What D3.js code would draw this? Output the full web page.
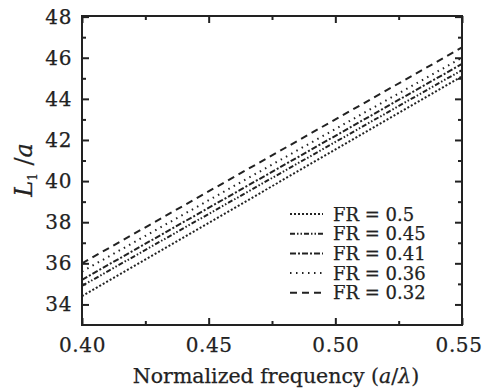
<!DOCTYPE html>
<html>
  <head>
    <script src="https://d3js.org/d3.v7.min.js"></script>
    <style>
      body { margin: 0; background: #fff; }
      text { font-family: "DejaVu Serif", serif; fill: #222; stroke: #222; stroke-width: 0.25px; }
    </style>
  </head>
  <body>
    <svg width="483" height="390"></svg>
    <script>
      // data
      const freq = [0.40, 0.55];
      const fr50 = [34.4, 45.1];
      const fr45 = [34.9, 45.4];
      const fr41 = [35.2, 45.7];
      const fr36 = [35.6, 46.0];
      const fr32 = [36.0, 46.5];
      const seriesNames = ["FR = 0.5", "FR = 0.45", "FR = 0.41", "FR = 0.36", "FR = 0.32"];
      const xTicks = [0.40, 0.45, 0.50, 0.55];
      const yTicks = [34, 36, 38, 40, 42, 44, 46, 48];

      const series = [fr50, fr45, fr41, fr36, fr32];
      const dashes = ["2,2", "5,2,1.5,2,1.5,2", "6,2,2,2", "1.5,4.5", "7,5"];

      const svg = d3.select("svg");
      const m = { left: 82, right: 462, top: 16, bottom: 325 };

      const x = d3.scaleLinear().domain([0.40, 0.55]).range([m.left, m.right]);
      const y = d3.scaleLinear().domain([33, 48.03]).range([m.bottom, m.top]);

      const ink = "#222";

      // lines
      const line = d3.line().x((d, i) => x(freq[i])).y(d => y(d));
      svg.selectAll("path.series")
        .data(series)
        .enter()
        .append("path")
        .attr("class", "series")
        .attr("d", d => line(d))
        .attr("fill", "none")
        .attr("stroke", ink)
        .attr("stroke-width", 2)
        .attr("stroke-dasharray", (d, i) => dashes[i]);

      // axes with inward ticks
      const bottom = d3.axisBottom(x).tickValues(xTicks).tickFormat(d3.format(".2f")).tickSizeInner(-7).tickSizeOuter(0).tickPadding(13);
      const minorX = d3.axisBottom(x).tickValues([0.425, 0.475, 0.525]).tickSizeInner(-4).tickSizeOuter(0).tickFormat("");
      const left = d3.axisLeft(y).tickValues(yTicks).tickSizeInner(-7).tickSizeOuter(0).tickPadding(10);
      const minorY = d3.axisLeft(y).tickValues(d3.range(35, 48, 2)).tickSizeInner(-4).tickSizeOuter(0).tickFormat("");

      function styleAxis(g) {
        g.select(".domain").remove();
        g.selectAll("line").attr("stroke", ink).attr("stroke-width", 2);
        g.selectAll("text").attr("font-size", 20).attr("letter-spacing", 0.6).attr("fill", ink)
          .style("font-family", "DejaVu Serif");
      }

      svg.append("g").attr("transform", `translate(0,${m.bottom})`).call(bottom).call(styleAxis);
      svg.append("g").attr("transform", `translate(0,${m.bottom})`).call(minorX).call(styleAxis);
      svg.append("g").attr("transform", `translate(0,${m.top})`).call(d3.axisTop(x).tickValues(xTicks).tickSizeInner(-7).tickSizeOuter(0).tickFormat("")).call(styleAxis);
      svg.append("g").attr("transform", `translate(0,${m.top})`).call(d3.axisTop(x).tickValues([0.425, 0.475, 0.525]).tickSizeInner(-4).tickSizeOuter(0).tickFormat("")).call(styleAxis);
      svg.append("g").attr("transform", `translate(${m.left},0)`).call(left).call(styleAxis);
      svg.append("g").attr("transform", `translate(${m.left},0)`).call(minorY).call(styleAxis);
      svg.append("g").attr("transform", `translate(${m.right},0)`).call(d3.axisRight(y).tickValues(yTicks).tickSizeInner(-7).tickSizeOuter(0).tickFormat("")).call(styleAxis);
      svg.append("g").attr("transform", `translate(${m.right},0)`).call(d3.axisRight(y).tickValues(d3.range(35, 48, 2)).tickSizeInner(-4).tickSizeOuter(0).tickFormat("")).call(styleAxis);

      // keep the last x label inside the window
      svg.selectAll("text").filter(function () { return this.textContent === "0.55"; })
        .attr("text-anchor", "end").attr("dx", 20);

      // frame
      svg.append("rect")
        .attr("x", m.left).attr("y", m.top)
        .attr("width", m.right - m.left).attr("height", m.bottom - m.top)
        .attr("fill", "none").attr("stroke", ink).attr("stroke-width", 2);

      // axis titles
      svg.append("text")
        .attr("x", (m.left + m.right) / 2 + 4).attr("y", 383)
        .attr("text-anchor", "middle").attr("font-size", 20.5)
        .html('Normalized frequency (<tspan font-style="italic">a</tspan>/<tspan font-style="italic">λ</tspan>)');

      svg.append("text")
        .attr("transform", "translate(32,170) rotate(-90)")
        .attr("text-anchor", "middle").attr("font-size", 24)
        .html('<tspan font-style="italic">L</tspan><tspan font-size="12" dy="5">1</tspan><tspan dy="-5"> /</tspan><tspan font-style="italic">a</tspan>');

      // legend
      const leg = svg.append("g");
      seriesNames.forEach((name, i) => {
        const ly = 214 + i * 19.7;
        leg.append("line")
          .attr("x1", 290).attr("x2", 323).attr("y1", ly).attr("y2", ly)
          .attr("stroke", ink).attr("stroke-width", 2)
          .attr("stroke-dasharray", dashes[i]);
        leg.append("text")
          .attr("x", 333).attr("y", ly + 6.5)
          .attr("font-size", 18)
          .text(name);
      });
    </script>
  </body>
</html>
